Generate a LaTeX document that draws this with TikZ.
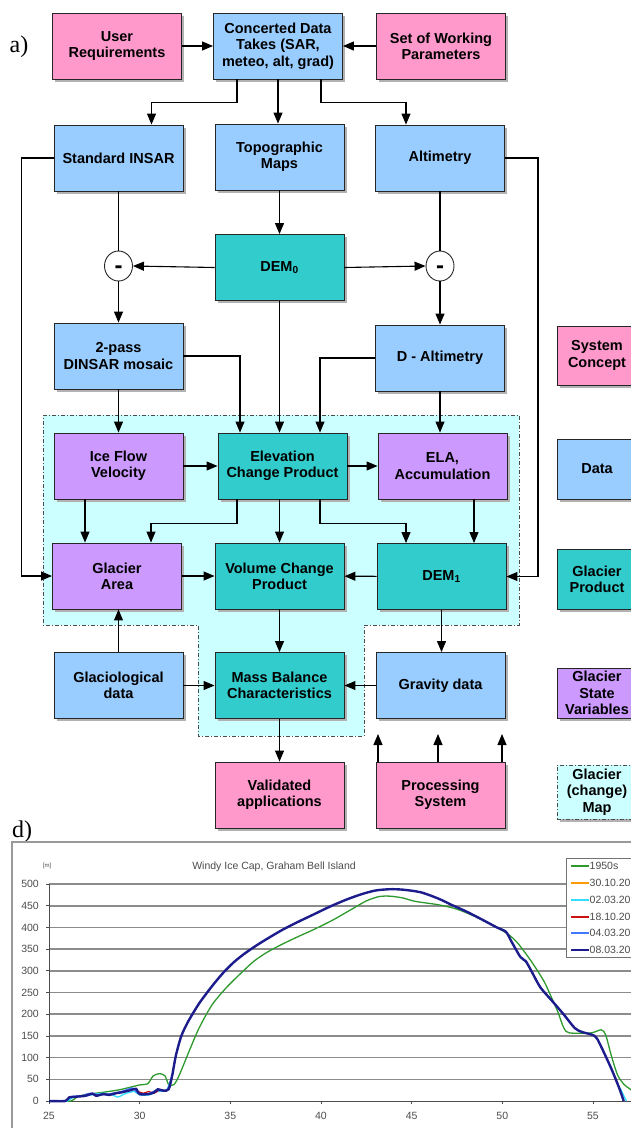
\documentclass[tikz,border=0pt]{standalone}
\usepackage{fontspec}
\setmainfont{Liberation Sans}
\newfontfamily\tagfont{Liberation Serif}
\usepackage{tikz}
\usetikzlibrary{arrows.meta}
\usetikzlibrary{positioning,calc,shapes,shadows}
\usepackage{xcolor}
\definecolor{sysPink}{HTML}{FF99CC}
\definecolor{dataBlue}{HTML}{99CCFF}
\definecolor{prodTeal}{HTML}{33CCCC}
\definecolor{stateLilac}{HTML}{CC99FF}
\definecolor{mapCyan}{HTML}{CCFFFF}
\definecolor{c1950}{HTML}{2E9A2E}
\definecolor{cOrange}{HTML}{FF9900}
\definecolor{cCyan}{HTML}{33DDFF}
\definecolor{cRed}{HTML}{CC1111}
\definecolor{cLight}{HTML}{4477FF}
\definecolor{cNavy}{HTML}{1C1C8C}
\tikzset{
    box/.style={
        draw=black!85,
        line width=0.9pt,
        minimum width=129pt,
        minimum height=66pt,
        inner sep=1pt,
        align=center,
        font=\bfseries\fontsize{14.5}{16.3}\selectfont,
        drop shadow={shadow xshift=2.5pt, shadow yshift=-2.5pt, fill=black!30, opacity=1}
    },
    sysbox/.style={box, fill=sysPink},
    databox/.style={box, fill=dataBlue},
    prodbox/.style={box, fill=prodTeal},
    statebox/.style={box, fill=stateLilac},
    legbox/.style={minimum width=80pt},
    tag/.style={font=\tagfont\fontsize{24}{24}\selectfont},
    minus/.style={
        draw=black!85,
        ellipse,
        fill=white,
        line width=0.9pt,
        minimum width=28pt,
        minimum height=30pt,
        inner sep=0pt,
        font=\bfseries\fontsize{24}{24}\selectfont
    },
    arr/.style={-{Triangle[length=11pt, width=9pt]}, line width=1.1pt},
    mapline/.style={draw=black!70, line width=0.8pt, dash pattern=on 4pt off 2pt on 1pt off 2pt},
    gridline/.style={draw=black!45, line width=1.6pt},
    ticklabel/.style={font=\fontsize{10.5}{12}\selectfont, text=black!70, inner sep=1pt}
}

\begin{document}
\begin{tikzpicture}[x=1pt, y=-1pt]
    \useasboundingbox (0,0) rectangle (631,1128);

    % glacier (change) map region
    \fill[mapCyan] (43,415) -- (519,415) -- (519,625) -- (364,625) -- (364,736) -- (198,736) -- (198,625) -- (43,625) -- cycle;
    \draw[mapline] (43,415) -- (519,415) -- (519,625) -- (364,625) -- (364,736) -- (198,736) -- (198,625) -- (43,625) -- cycle;

    \node[tag] (tagA) at (19,47) {a)};
    \node[tag] (tagD) at (22,832) {d)};

    \node[sysbox] (user) at (117,46) {User\\Requirements};
    \node[databox] (cdt) at (278,46) {Concerted Data\\Takes (SAR,\\meteo, alt, grad)};
    \node[sysbox] (swp) at (441,46) {Set of Working\\Parameters};

    \node[databox] (insar) at (118.5,158) {Standard INSAR};
    \node[databox] (topo) at (279.5,157) {Topographic\\Maps};
    \node[databox] (alt) at (440,158) {Altimetry};

    \node[prodbox] (dem0) at (279.5,267.5) {DEM\textsubscript{0}};
    \node[minus] (mL) at (118.5,266) {\smash{\raisebox{-7pt}{-}}};
    \node[minus] (mR) at (440,266) {\smash{\raisebox{-7pt}{-}}};

    \node[databox] (dinsar) at (118.5,356) {2-pass\\DINSAR mosaic};
    \node[databox] (dalt) at (440,358) {D - Altimetry};

    \node[statebox] (ifv) at (118.5,466) {Ice Flow\\Velocity};
    \node[prodbox] (ecp) at (282.5,466) {Elevation\\Change Product};
    \node[statebox] (ela) at (442.5,466) {ELA,\\Accumulation};

    \node[statebox] (area) at (117,576) {Glacier\\Area};
    \node[prodbox] (vcp) at (279.5,576) {Volume Change\\Product};
    \node[prodbox] (dem1) at (441.5,576.5) {DEM\textsubscript{1}};

    \node[databox] (glac) at (118.5,685.5) {Glaciological\\data};
    \node[prodbox] (mbc) at (279.5,685.5) {Mass Balance\\Characteristics};
    \node[databox] (grav) at (440.5,685.5) {Gravity data};

    \node[sysbox] (val) at (279.5,795) {Validated\\applications};
    \node[sysbox] (proc) at (440.5,795) {Processing\\System};

    % legend
    \node[sysbox, legbox, minimum height=59pt] (legSys) at (597,355.5) {System\\Concept};
    \node[databox, legbox, minimum height=60pt] (legData) at (597,469) {Data};
    \node[prodbox, legbox, minimum height=60pt] (legProd) at (597,579) {Glacier\\Product};
    \node[statebox, legbox, minimum height=50pt] (legState) at (597,693) {Glacier\\State\\Variables};
    \node[box, legbox, mapline, fill=mapCyan, minimum height=54pt, drop shadow={opacity=0}] (legMap) at (597,792) {Glacier\\(change)\\Map};

    \draw[arr] (user) -- (cdt);
    \draw[arr] (swp) -- (cdt);
    \draw[arr] ([xshift=-41pt]cdt.south) -- ++(0,23) -| ([xshift=33pt]insar.north);
    \draw[arr] (cdt.south) -- (cdt.south |- topo.north);
    \draw[arr] ([xshift=43pt]cdt.south) -- ++(0,23) -| ([xshift=-34pt]alt.north);

    \draw[arr] (insar.west) -- ++(-32,0) |- (area.west);
    \draw[arr] (alt.east) -- ++(33,0) |- (dem1.east);
    \draw[line width=1.1pt] (insar.south) -- (mL.north);
    \draw[line width=1.1pt] (alt.south) -- (mR.north);
    \draw[arr] (topo.south) -- (dem0.north);
    \draw[arr] (dem0.west) -- (mL.east);
    \draw[arr] (dem0.east) -- (mR.west);
    \draw[arr] (mL.south) -- (dinsar.north);
    \draw[arr] (mR.south) -- (dalt.north);

    \draw[arr] (dinsar.east) -| ([xshift=-42.5pt]ecp.north);
    \draw[arr] (dem0.south) -- (dem0.south |- ecp.north);
    \draw[arr] (dalt.west) -| ([xshift=37.5pt]ecp.north);
    \draw[arr] (dinsar.south) -- (ifv.north);
    \draw[arr] (dalt.south) -- (dalt.south |- ela.north);

    \draw[arr] (ifv) -- (ecp);
    \draw[arr] (ecp) -- (ela);
    \draw[arr] ([xshift=-33.5pt]ifv.south) -- ([xshift=-33.5pt]ifv.south |- area.north);
    \draw[arr] ([xshift=-45.5pt]ecp.south) -- ++(0,24) -| ([xshift=34pt]area.north);
    \draw[arr] (vcp.north |- ecp.south) -- (vcp.north);
    \draw[arr] ([xshift=37.5pt]ecp.south) -- ++(0,24) -| ([xshift=-35.5pt]dem1.north);
    \draw[arr] ([xshift=31.5pt]ela.south) -- ([xshift=31.5pt]ela.south |- dem1.north);
    \draw[arr] (area) -- (vcp);
    \draw[arr] (dem1) -- (vcp);

    \draw[arr] (glac.north) -- (glac.north |- area.south);
    \draw[arr] (glac) -- (mbc);
    \draw[arr] (grav) -- (mbc);
    \draw[arr] (vcp) -- (mbc);
    \draw[arr] (dem1.south) -- (dem1.south |- grav.north);
    \draw[arr] (mbc) -- (val);

    \coordinate (up1) at (378,734);
    \coordinate (up2) at (438,734);
    \coordinate (up3) at (502,734);
    \draw[arr] (proc.north -| up1) -- (up1);
    \draw[arr] (proc.north -| up2) -- (up2);
    \draw[arr] (proc.north -| up3) -- (up3);

    % profile chart
    \draw[draw=black!40, line width=1.2pt, fill=white] (12,842) rectangle (700,1150);
    \node[font=\fontsize{10.5}{12}\selectfont, text=black!70] (title) at (274,867) {Windy Ice Cap, Graham Bell Island};
    \node[font=\fontsize{6}{7}\selectfont, text=black!70] (unit) at (47,866) {[m]};

    \begin{scope}[shift={(49,1101)}, x=18.13pt, y=0.434pt, xshift=-453.25pt]
        \foreach \h in {50,100,...,500}
            \draw[gridline] (25,\h) -- (62,\h);
        \foreach \h in {0,50,...,500} {
            \draw[black!70, line width=0.8pt] (25,\h) -- ++(-3pt,0);
            \node[ticklabel, anchor=east, xshift=-9pt] at (25,\h) {\h};
        }
        \foreach \v in {25,30,...,55} {
            \draw[black!70, line width=0.8pt] (\v,0) -- ++(0,-3pt);
            \node[ticklabel, anchor=north, yshift=-10pt] at (\v,0) {\v};
        }
        \draw[black!70, line width=1pt] (25,500) -- (25,0) -- (62,0);

        \draw[c1950, line width=1.3pt] plot[smooth, tension=0.45] coordinates {
            (25,0) (26.2,0) (26.5,8) (27,15) (27.6,18) (28.3,22) (28.9,26) (29.5,32) (30,37)
            (30.45,40) (30.75,58) (31.1,63) (31.4,58) (31.6,38) (31.9,38) (32.2,61) (32.8,122)
            (33.3,170) (34,222) (34.8,262) (35.6,295) (36.3,322) (37,342) (37.8,360) (38.7,378)
            (39.7,397) (40.7,418) (41.7,442) (42.5,461) (43.2,471) (43.8,472) (44.5,468)
            (45.2,460) (46.5,452) (47.5,442) (48.5,425) (49.6,402) (50.3,385) (50.85,364)
            (51.6,322) (52.3,276) (52.7,240) (53.05,207) (53.4,168) (53.7,157) (54.9,157)
            (55.45,164) (55.7,153) (56,107) (56.35,61) (56.7,39) (57.1,26) (57.5,15)};
        \draw[cCyan, line width=1.3pt] plot[smooth, tension=0.4] coordinates {
            (25,0) (26,0) (26.3,8) (27,12) (27.5,15) (28,18) (28.5,14) (28.8,9) (29.2,17)
            (29.7,22) (30,14) (30.5,14) (31,22) (31.5,26) (31.8,60)};
        \draw[cCyan, line width=1.3pt] (56.5,30) -- (56.85,0);
        \draw[cRed, line width=1.2pt] plot[smooth, tension=0.4] coordinates {
            (29.8,24) (30.2,18) (30.5,22) (30.8,18) (31.1,26)};
        \draw[cLight, line width=1.3pt] plot[smooth, tension=0.4] coordinates {
            (25,0) (25.9,0) (26.2,10) (26.8,12) (27.3,18) (27.8,14) (28.4,17) (29,22)
            (29.6,30) (29.9,18) (30.4,16) (30.9,24) (31.5,25) (31.8,60)};
        \draw[cNavy, line width=2.4pt] plot[smooth, tension=0.45] coordinates {
            (25,0) (25.9,0) (26.1,8) (26.5,10) (27,12) (27.4,17) (27.6,12) (28,16) (28.3,14)
            (28.7,18) (29,20) (29.5,25) (29.8,28) (30,16) (30.5,16) (30.8,20) (31,27) (31.3,24)
            (31.6,27) (31.8,60) (32,105) (32.3,150) (32.7,185) (33.3,226) (34,265) (34.6,295)
            (35.2,320) (35.8,340) (36.5,360) (37.2,378) (37.9,395) (38.7,412) (39.6,430)
            (40.5,448) (41.4,464) (42.2,476) (43,485) (43.8,488) (44.5,487) (45.5,481)
            (46.5,466) (47.2,452) (48,437) (48.8,420) (49.7,400) (50.2,390) (50.5,368) (51,332)
            (51.3,322) (51.6,300) (52.1,262) (52.7,233) (53.4,199) (54,168) (54.4,159)
            (55.1,150) (55.4,130) (56,76) (56.45,30) (56.7,0)};
    \end{scope}

    % chart legend
    \draw[draw=black!55, line width=0.9pt, fill=white] (566,858) rectangle (700,957);
    \foreach \c/\t/\y/\w in {c1950/1950s/866/1.3, cOrange/30.10.20/883/1.3, cCyan/02.03.20/900/1.3,
                             cRed/18.10.20/917/1.3, cLight/04.03.20/933/1.3, cNavy/08.03.20/950/2.4} {
        \draw[\c, line width=\w pt] (571,\y) -- (589,\y);
        \node[ticklabel, anchor=west, inner sep=0.5pt] at (589,\y) {\t};
    }
\end{tikzpicture}
\end{document}
